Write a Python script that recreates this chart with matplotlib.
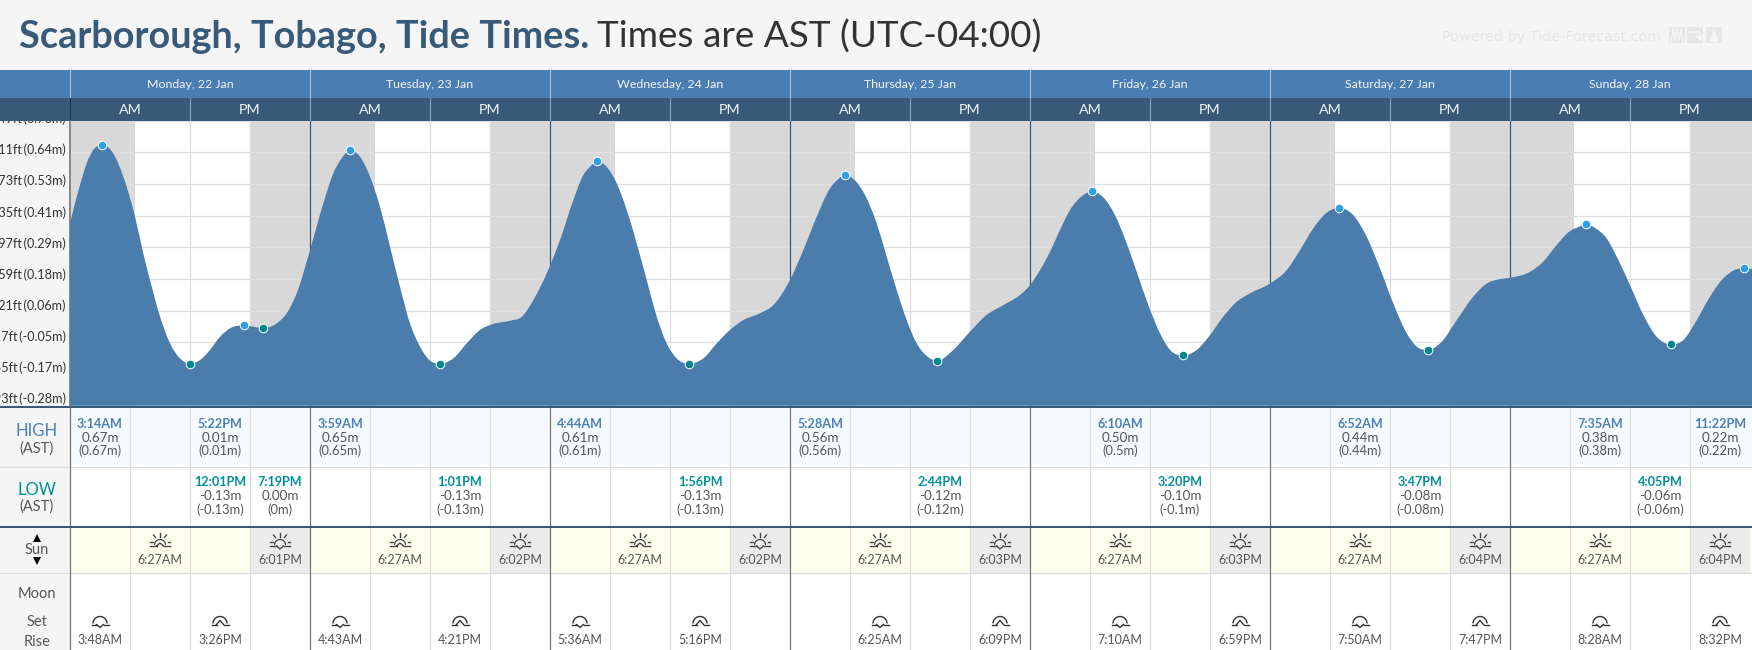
import numpy as np
import matplotlib
matplotlib.use("Agg")
import matplotlib.pyplot as plt
from matplotlib.patches import PathPatch, Rectangle
from matplotlib.path import Path

plt.rcParams['font.family'] = ['Lato', 'DejaVu Sans']

W, H = 1752, 650
BLUE = "#4a7cac"
NAVY = "#385a78"
HIGH_COL = "#2e9fe0"
LOW_COL = "#00878f"
GREY_TXT = "#555555"

days = ["Monday, 22 Jan", "Tuesday, 23 Jan", "Wednesday, 24 Jan", "Thursday, 25 Jan",
        "Friday, 26 Jan", "Saturday, 27 Jan", "Sunday, 28 Jan"]

high_days = [0, 0, 1, 2, 3, 4, 5, 6, 6]
high_times = ["3:14AM", "5:22PM", "3:59AM", "4:44AM", "5:28AM", "6:10AM", "6:52AM", "7:35AM", "11:22PM"]
high_m = [0.67, 0.01, 0.65, 0.61, 0.56, 0.50, 0.44, 0.38, 0.22]

low_days = [0, 0, 1, 2, 3, 4, 5, 6]
low_times = ["12:01PM", "7:19PM", "1:01PM", "1:56PM", "2:44PM", "3:20PM", "3:47PM", "4:05PM"]
low_m = [-0.13, 0.00, -0.13, -0.13, -0.12, -0.10, -0.08, -0.06]

sunrise = ["6:27AM", "6:27AM", "6:27AM", "6:27AM", "6:27AM", "6:27AM", "6:27AM"]
sunset = ["6:01PM", "6:02PM", "6:02PM", "6:03PM", "6:03PM", "6:04PM", "6:04PM"]
moonset = ["3:48AM", "4:43AM", "5:36AM", "6:25AM", "7:10AM", "7:50AM", "8:28AM"]
moonrise = ["3:26PM", "4:21PM", "5:16PM", "6:09PM", "6:59PM", "7:47PM", "8:32PM"]

tick_ft = [2.49, 2.11, 1.73, 1.35, 0.97, 0.59, 0.21, -0.17, -0.55, -0.93]
tick_m = [0.76, 0.64, 0.53, 0.41, 0.29, 0.18, 0.06, -0.05, -0.17, -0.28]

# water level between the turning points, hours since Monday 00:00
level_h = [0.0, 0.5, 1.0, 1.67, 2.33, 4.33, 5.33, 6.5, 7.33, 8.0, 9.0, 10.0, 11.0,
           13.0, 14.0, 15.0, 16.0, 20.67, 21.67, 22.67, 24.0, 25.33, 26.33, 27.17,
           29.0, 30.0, 31.0, 32.0, 33.0, 34.0, 35.0, 36.0, 38.33, 39.67, 41.0, 42.33,
           44.0, 45.17, 46.33, 47.67, 49.0, 50.33, 51.33, 52.0, 53.67, 54.67, 55.67,
           56.67, 57.67, 58.67, 59.67, 60.67, 63.33, 64.67, 66.0, 67.33, 69.0, 70.33,
           72.0, 73.33, 74.67, 76.0, 76.83, 78.5, 79.5, 80.67, 81.67, 82.67, 83.67,
           84.67, 85.67, 88.33, 90.0, 91.67, 93.33, 95.0, 96.0, 97.0, 98.0, 99.0,
           100.0, 101.17, 103.33, 104.5, 105.67, 106.67, 107.83, 109.0, 110.0, 112.67,
           114.0, 115.33, 116.67, 118.0, 120.0, 121.67, 123.0, 124.33, 125.67, 128.33,
           129.67, 131.0, 132.33, 133.67, 134.67, 137.17, 138.67, 140.33, 141.67, 143.0,
           144.0, 146.0, 147.33, 148.67, 150.0, 151.0, 152.67, 153.67, 154.67, 156.0,
           157.33, 158.67, 161.33, 162.67, 164.0, 165.33, 166.33, 168.2]
level_m = [0.383, 0.456, 0.523, 0.603, 0.652, 0.639, 0.554, 0.408, 0.273, 0.176, 0.042, -0.056, -0.111,
           -0.117, -0.080, -0.032, -0.001, 0.017, 0.054, 0.127, 0.285, 0.456, 0.566, 0.621,
           0.627, 0.554, 0.444, 0.298, 0.151, 0.017, -0.068, -0.119, -0.111, -0.056, -0.007, 0.015,
           0.027, 0.041, 0.102, 0.200, 0.322, 0.468, 0.560, 0.590, 0.590, 0.530, 0.432,
           0.310, 0.176, 0.042, -0.056, -0.111, -0.111, -0.056, -0.007, 0.029, 0.054, 0.084,
           0.176, 0.285, 0.407, 0.511, 0.545, 0.540, 0.487, 0.383, 0.261, 0.139, 0.029,
           -0.056, -0.102, -0.080, -0.013, 0.048, 0.084, 0.121, 0.157, 0.212, 0.279, 0.359,
           0.432, 0.482, 0.478, 0.413, 0.310, 0.206, 0.084, -0.019, -0.080, -0.080,
           -0.026, 0.042, 0.096, 0.127, 0.163, 0.212, 0.285, 0.365, 0.422, 0.413,
           0.334, 0.218, 0.090, -0.019, -0.068, -0.050, 0.029, 0.115, 0.163, 0.179,
           0.184, 0.206, 0.243, 0.304, 0.355, 0.372, 0.362, 0.328, 0.261, 0.157,
           0.048, -0.032, -0.044, 0.029, 0.115, 0.182, 0.210, 0.216]


def hours(t):
    hh, mm = t[:-2].split(":")
    return int(hh) % 12 + int(mm) / 60 + (12 if t.endswith("PM") else 0)


def cell_x(day, t):
    # every day has four 60px columns
    return 70 + 240 * day + 60 * int(hours(t) // 6) + 30


def smooth_path(xs, ys, base):
    # cubic through the points, flat at turning points, closed along the base
    xs = np.asarray(xs)
    ys = np.asarray(ys)
    dx = np.diff(xs)
    s = np.diff(ys) / dx
    t = np.zeros(len(xs))
    t[0], t[-1] = s[0], s[-1]
    for i in range(1, len(xs) - 1):
        if s[i - 1] * s[i] > 0:
            mean = (s[i - 1] * dx[i] + s[i] * dx[i - 1]) / (dx[i] + dx[i - 1])
            t[i] = np.sign(mean) * min(abs(mean), 3 * abs(s[i - 1]), 3 * abs(s[i]))
    verts = [(xs[0], base), (xs[0], ys[0])]
    codes = [Path.MOVETO, Path.LINETO]
    for i in range(len(dx)):
        verts += [(xs[i] + dx[i] / 3, ys[i] + t[i] * dx[i] / 3),
                  (xs[i + 1] - dx[i] / 3, ys[i + 1] - t[i + 1] * dx[i] / 3),
                  (xs[i + 1], ys[i + 1])]
        codes += [Path.CURVE4] * 3
    verts += [(xs[-1], base), (xs[0], base)]
    codes += [Path.LINETO, Path.CLOSEPOLY]
    return Path(verts, codes)


def arc(ax, cx, cy, r, col, lw):
    a = np.linspace(np.pi, 2 * np.pi, 30)
    ax.plot(cx + r * np.cos(a), cy + r * np.sin(a), color=col, lw=lw, zorder=5, solid_capstyle="butt")


def sun_icon(ax, cx, up):
    cy = 546
    col = "#444444"
    arc(ax, cx, cy - 1, 5.5, col, 0.9)
    ax.plot([cx - 10, cx - 3.5], [cy, cy], color=col, lw=1.0, zorder=5)
    ax.plot([cx + 3.5, cx + 10], [cy, cy], color=col, lw=1.0, zorder=5)
    if up:
        ax.plot([cx - 3.5, cx, cx + 3.5], [cy, cy - 3, cy], color=col, lw=1.0, zorder=5)
    else:
        ax.plot([cx - 3.5, cx, cx + 3.5], [cy, cy + 3, cy], color=col, lw=1.0, zorder=5)
    for x1, y1, x2, y2 in [(0, -13, 0, -9.5), (-6.5, -11, -4.5, -8.5), (6.5, -11, 4.5, -8.5),
                           (-10, -4, -7.5, -4), (10, -4, 7.5, -4)]:
        ax.plot([cx + x1, cx + x2], [cy + y1, cy + y2], color=col, lw=1.0, zorder=5)


def moon_icon(ax, cx, up):
    cy = 624.5
    col = "#333333"
    arc(ax, cx, cy - 1, 7, col, 1.0)
    ax.plot([cx - 8.5, cx - 3.5], [cy, cy], color=col, lw=1.0, zorder=5)
    ax.plot([cx + 3.5, cx + 8.5], [cy, cy], color=col, lw=1.0, zorder=5)
    dy = -4 if up else 3
    ax.plot([cx - 3.5, cx, cx + 3.5], [cy, cy + dy, cy], color=col, lw=1.0, zorder=5)


fig = plt.figure(figsize=(W / 100, H / 100), dpi=100, facecolor="white")

# page furniture and the tables are laid out in pixels
bg = fig.add_axes([0, 0, 1, 1], zorder=1)
bg.set_xlim(0, W)
bg.set_ylim(H, 0)
bg.axis("off")

bg.add_patch(Rectangle((0, 0), W, 70, color="#f5f5f5", zorder=0, lw=0))
bg.add_patch(Rectangle((0, 121), 70, H - 121, color="#f5f5f5", zorder=0, lw=0))
bg.text(19, 37, "Scarborough, Tobago, Tide Times.", fontsize=27.3, fontweight="bold", color=NAVY,
        va="center", ha="left")
bg.text(597, 37, "Times are AST (UTC-04:00)", fontsize=26.6, color="#333333", va="center", ha="left")
bg.text(1442, 36.5, "Powered by Tide-Forecast.com", fontsize=10.4, color="#e6e6e6", va="center", ha="left",
        family="DejaVu Sans")
for x in [1669, 1687, 1706]:
    bg.add_patch(Rectangle((x, 27), 16, 16, color="#e6e6e6", lw=0, zorder=1))
bg.plot([1671, 1673, 1675, 1677, 1679, 1681, 1683], [42, 29, 41, 29, 41, 29, 42], color="#f5f5f5", lw=1, zorder=2)
bg.plot([1690, 1700, 1700, 1697, 1700, 1703], [32, 32, 38, 36, 40, 36], color="#f5f5f5", lw=1.2, zorder=2)
bg.fill([1709, 1714, 1719], [42, 29, 42], color="#f5f5f5", lw=0, zorder=2)

# header bands
bg.add_patch(Rectangle((0, 70), W, 28, color="#4a7db2", lw=0, zorder=6))
bg.add_patch(Rectangle((0, 98), W, 23, color=NAVY, lw=0, zorder=6))
for d, name in enumerate(days):
    x0 = 70 + 240 * d
    bg.text(x0 + 120, 84, name, fontsize=8.9, color="#f2f5f8", ha="center", va="center", zorder=7)
    bg.text(x0 + 60, 109.5, "AM", fontsize=10.3, color="#f2f5f8", ha="center", va="center", zorder=7)
    bg.text(x0 + 180, 109.5, "PM", fontsize=10.3, color="#f2f5f8", ha="center", va="center", zorder=7)
    bg.plot([x0 - 0.5, x0 - 0.5], [70, 98], color="#a9bfd6", lw=0.8, zorder=7)
    bg.plot([x0 - 0.5, x0 - 0.5], [98, 121], color="#8da0b2" if d else "#1f3346", lw=0.8, zorder=7)
    bg.plot([x0 + 119.5, x0 + 119.5], [98, 121], color="#8da0b2", lw=0.8, zorder=7)

# axis labels, the band above covers the top one
for i, (ft, m) in enumerate(zip(tick_ft, tick_m)):
    bg.text(66, 118.8 + 31.15 * i, f"{ft:.2f}ft\u2009({m:.2f}m)", fontsize=9.1, color="#333333", ha="right", va="center", zorder=3)

# table rows
bg.add_patch(Rectangle((70, 408), W - 70, 58, color="#f6fbff", lw=0, zorder=0))
bg.add_patch(Rectangle((70, 527), W - 70, 45.5, color="#fffff0", lw=0, zorder=0))
for d in range(7):
    bg.add_patch(Rectangle((70 + 240 * d + 180, 527), 60, 45.5, color="#ececec", lw=0, zorder=1))

bg.plot([0, W], [466.5, 466.5], color="#dddddd", lw=0.9, zorder=2)
bg.plot([0, W], [572.5, 572.5], color="#dddddd", lw=0.9, zorder=2)
for d in range(7):
    x0 = 70 + 240 * d
    for q in [60, 120, 180]:
        bg.plot([x0 + q - 0.5] * 2, [407, H], color="#dddddd", lw=0.9, zorder=2)
    bg.plot([x0 - 0.5] * 2, [407, H], color="#777777", lw=0.9, zorder=3)
bg.add_patch(Rectangle((0, 405.7), W, 2, color=NAVY, lw=0, zorder=6))
bg.add_patch(Rectangle((0, 525.6), W, 2, color=NAVY, lw=0, zorder=6))

# left hand captions
bg.text(37, 431, "HIGH", fontsize=12, color="#4a80bb", ha="center", va="center")
bg.text(37, 449, "(AST)", fontsize=10.5, color=GREY_TXT, ha="center", va="center")
bg.text(37, 490, "LOW", fontsize=12, color="#00919c", ha="center", va="center")
bg.text(37, 507, "(AST)", fontsize=10.5, color=GREY_TXT, ha="center", va="center")
bg.text(37, 550, "Sun", fontsize=10.5, color=GREY_TXT, ha="center", va="center")
bg.plot([37], [538], marker="^", ms=5.5, color="black", mew=0, ls="none", zorder=5)
bg.plot([37], [561], marker="v", ms=5.5, color="black", mew=0, ls="none", zorder=5)
bg.text(37, 594, "Moon", fontsize=10.5, color=GREY_TXT, ha="center", va="center")
bg.text(37, 622, "Set", fontsize=10.5, color=GREY_TXT, ha="center", va="center")
bg.text(37, 642, "Rise", fontsize=10.5, color=GREY_TXT, ha="center", va="center")

# high and low cells
for d, t, m in zip(high_days, high_times, high_m):
    x = cell_x(d, t)
    bg.text(x, 423.5, t, fontsize=9.1, fontweight="bold", color="#4a80bb", ha="center", va="center")
    bg.text(x, 437.5, f"{m:.2f}m", fontsize=9.6, color=GREY_TXT, ha="center", va="center")
    bg.text(x, 451, f"({m:g}m)", fontsize=9.3, color=GREY_TXT, ha="center", va="center")
for d, t, m in zip(low_days, low_times, low_m):
    x = cell_x(d, t)
    bg.text(x, 482.5, t, fontsize=9.1, fontweight="bold", color="#00919c", ha="center", va="center")
    bg.text(x, 496.5, f"{m:.2f}m", fontsize=9.6, color=GREY_TXT, ha="center", va="center")
    bg.text(x, 510, f"({m:g}m)", fontsize=9.3, color=GREY_TXT, ha="center", va="center")

# sun and moon cells
for d in range(7):
    for t, up in [(sunrise[d], True), (sunset[d], False)]:
        x = cell_x(d, t)
        sun_icon(bg, x, up)
        bg.text(x, 560, t, fontsize=9.0, color=GREY_TXT, ha="center", va="center")
    for t, up in [(moonset[d], False), (moonrise[d], True)]:
        x = cell_x(d, t)
        moon_icon(bg, x, up)
        bg.text(x, 640, t, fontsize=9.0, color=GREY_TXT, ha="center", va="center")
bg.set_xlim(0, W)
bg.set_ylim(H, 0)

# tide chart: 10px per hour, hours since Monday 00:00 on x and metres on y
ax = fig.add_axes([70 / W, (H - 405.7) / H, (W - 70) / W, 284.7 / H], zorder=2)
ax.set_xlim(0, 168.2)
ax.set_ylim(-0.2840, 0.7576)
ax.axis("off")
ax.add_patch(Rectangle((0, -1), 168.2, 3, color="white", lw=0, zorder=0))

starts = [0.0] + [24 * d + hours(sunset[d]) for d in range(7)]
ends = [24 * d + hours(sunrise[d]) for d in range(7)] + [168.2]
for a, b in zip(starts, ends):
    ax.axvspan(a, b, color="#d8d8d8", lw=0, zorder=1)
for ft in tick_ft:
    ax.axhline(ft / 3.28084, color="#dedede", lw=0.9, zorder=2)
for d in range(7):
    for q in [6, 12, 18]:
        ax.axvline(24 * d + q - 0.05, color="#dedede", lw=0.9, zorder=2)
    if d:
        ax.axvline(24 * d - 0.05, color=NAVY, lw=0.9, zorder=2)
ax.axvline(-0.05, color="#777777", lw=1.2, zorder=2, clip_on=False)

high_h = [24 * d + hours(t) for d, t in zip(high_days, high_times)]
low_h = [24 * d + hours(t) for d, t in zip(low_days, low_times)]
all_h = np.array(level_h + high_h + low_h)
all_m = np.array(level_m + high_m + low_m)
order = np.argsort(all_h)
ax.add_patch(PathPatch(smooth_path(all_h[order], all_m[order], -0.2840), facecolor=BLUE, edgecolor="none", zorder=3))

ax.plot(high_h, high_m, "o", ms=6.2, mfc=HIGH_COL, mec="white", mew=0.7, zorder=4, clip_on=False)
ax.plot(low_h, low_m, "o", ms=6.2, mfc=LOW_COL, mec="white", mew=0.7, zorder=4, clip_on=False)

fig.savefig("out.png", dpi=100)
